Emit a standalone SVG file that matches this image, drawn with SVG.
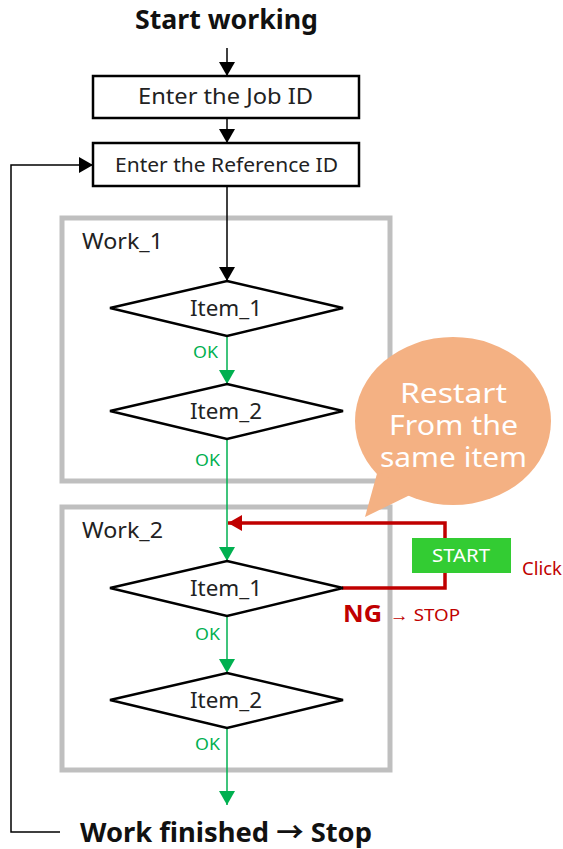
<svg xmlns="http://www.w3.org/2000/svg" width="563" height="849" viewBox="0 0 563 849">
<defs>
<style>
.t{font-family:"Noto Sans","Noto Sans CJK JP",sans-serif;fill:#222;}
.b{font-family:"Noto Sans","Noto Sans CJK JP",sans-serif;font-weight:bold;fill:#111;}
.box{fill:#fff;stroke:#000;stroke-width:2.5;}
.dia{fill:#fff;stroke:#000;stroke-width:2.5;}
.grp{fill:none;stroke:#bfbfbf;stroke-width:5;}
.blk{fill:none;stroke:#000;stroke-width:1.5;}
.grn{fill:none;stroke:#00b050;stroke-width:1.5;}
.red{fill:none;stroke:#c00000;stroke-width:3.5;}
.ok{font-family:"Noto Sans",sans-serif;font-size:17px;fill:#00b050;}
.w{font-family:"Noto Sans",sans-serif;fill:#fff;}
.r{font-family:"Noto Sans",sans-serif;fill:#c00000;}
</style>
<marker id="ab" markerWidth="14" markerHeight="16" refX="14" refY="8" orient="auto" markerUnits="userSpaceOnUse"><path d="M0,0 L14,8 L0,16 Z" fill="#000"/></marker>
<marker id="ag" markerWidth="14" markerHeight="16" refX="14" refY="8" orient="auto" markerUnits="userSpaceOnUse"><path d="M0,0 L14,8 L0,16 Z" fill="#00b050"/></marker>
<marker id="ar" markerWidth="14" markerHeight="16" refX="14" refY="8" orient="auto" markerUnits="userSpaceOnUse"><path d="M0,0 L14,8 L0,16 Z" fill="#c00000"/></marker>
</defs>
<rect width="563" height="849" fill="#fff"/>

<g id="work1-frame"><rect class="grp" x="62" y="218" width="328" height="263"/><text class="t" x="82" y="249" font-size="22" textLength="81" lengthAdjust="spacingAndGlyphs">Work_1</text></g>
<g id="work2-frame"><rect class="grp" x="62" y="507" width="328" height="263"/><text class="t" x="82" y="538" font-size="22" textLength="81" lengthAdjust="spacingAndGlyphs">Work_2</text></g>

<g id="connectors">
<line class="blk" x1="227" y1="48" x2="227" y2="76" marker-end="url(#ab)"/>
<line class="blk" x1="227" y1="118" x2="227" y2="143" marker-end="url(#ab)"/>
<line class="blk" x1="227" y1="186" x2="227" y2="281" marker-end="url(#ab)"/>
<polyline class="blk" points="60,832 11,832 11,165 93,165" marker-end="url(#ab)"/>
<line class="grn" x1="227" y1="336" x2="227" y2="384" marker-end="url(#ag)"/>
<line class="grn" x1="227" y1="439" x2="227" y2="561" marker-end="url(#ag)"/>
<line class="grn" x1="227" y1="616" x2="227" y2="673" marker-end="url(#ag)"/>
<line class="grn" x1="227" y1="728" x2="227" y2="805" marker-end="url(#ag)"/>
<polyline class="red" points="342,588 445,588 445,523 228,523" marker-end="url(#ar)"/>
<text class="ok" x="193" y="358" textLength="25" lengthAdjust="spacingAndGlyphs">OK</text>
<text class="ok" x="195" y="466" textLength="25" lengthAdjust="spacingAndGlyphs">OK</text>
<text class="ok" x="195" y="640" textLength="25" lengthAdjust="spacingAndGlyphs">OK</text>
<text class="ok" x="195" y="750" textLength="25" lengthAdjust="spacingAndGlyphs">OK</text>
</g>

<g id="start"><text class="b" x="135" y="29" font-size="26.5" textLength="183" lengthAdjust="spacingAndGlyphs">Start working</text></g>
<g id="job-id"><rect class="box" x="93" y="76" width="266" height="42"/><text class="t" x="138" y="104" font-size="21" textLength="175" lengthAdjust="spacingAndGlyphs">Enter the Job ID</text></g>
<g id="ref-id"><rect class="box" x="93" y="143" width="266" height="43"/><text class="t" x="115" y="172" font-size="20" textLength="223" lengthAdjust="spacingAndGlyphs">Enter the Reference ID</text></g>

<g id="w1-item1"><polygon class="dia" points="227,281 343,308 227,336 110,308"/><text class="t" x="190" y="316" font-size="22" textLength="72" lengthAdjust="spacingAndGlyphs">Item_1</text></g>
<g id="w1-item2"><polygon class="dia" points="227,384 343,411 227,439 110,411"/><text class="t" x="190" y="419" font-size="22" textLength="72" lengthAdjust="spacingAndGlyphs">Item_2</text></g>
<g id="w2-item1"><polygon class="dia" points="227,561 343,588 227,616 110,588"/><text class="t" x="190" y="596" font-size="22" textLength="72" lengthAdjust="spacingAndGlyphs">Item_1</text></g>
<g id="w2-item2"><polygon class="dia" points="227,673 343,700 227,728 110,700"/><text class="t" x="190" y="708" font-size="22" textLength="72" lengthAdjust="spacingAndGlyphs">Item_2</text></g>

<g id="ng"><text class="b" x="343" y="622" font-size="24" style="fill:#c00000" textLength="39" lengthAdjust="spacingAndGlyphs">NG</text><text class="r" x="390" y="621" font-size="17" textLength="70" lengthAdjust="spacingAndGlyphs">→ STOP</text></g>

<g id="start-button"><rect x="412" y="538" width="99" height="35" fill="#33cc33"/><text class="w" x="432" y="562" font-size="18" textLength="58" lengthAdjust="spacingAndGlyphs">START</text><text class="r" x="522" y="575" font-size="18" textLength="40" lengthAdjust="spacingAndGlyphs">Click</text></g>

<g id="bubble">
<ellipse cx="453" cy="421" rx="98" ry="84" fill="#f4b183"/>
<polygon points="378,470 365,517 410,495" fill="#f4b183"/>
<text class="w" x="400" y="403" font-size="28" textLength="107" lengthAdjust="spacingAndGlyphs">Restart</text>
<text class="w" x="389" y="435" font-size="28" textLength="129" lengthAdjust="spacingAndGlyphs">From the</text>
<text class="w" x="380" y="467" font-size="28" textLength="147" lengthAdjust="spacingAndGlyphs">same item</text>
</g>

<g id="end"><text class="b" x="80" y="842" font-size="27" textLength="292" lengthAdjust="spacingAndGlyphs">Work finished → Stop</text></g>
</svg>
